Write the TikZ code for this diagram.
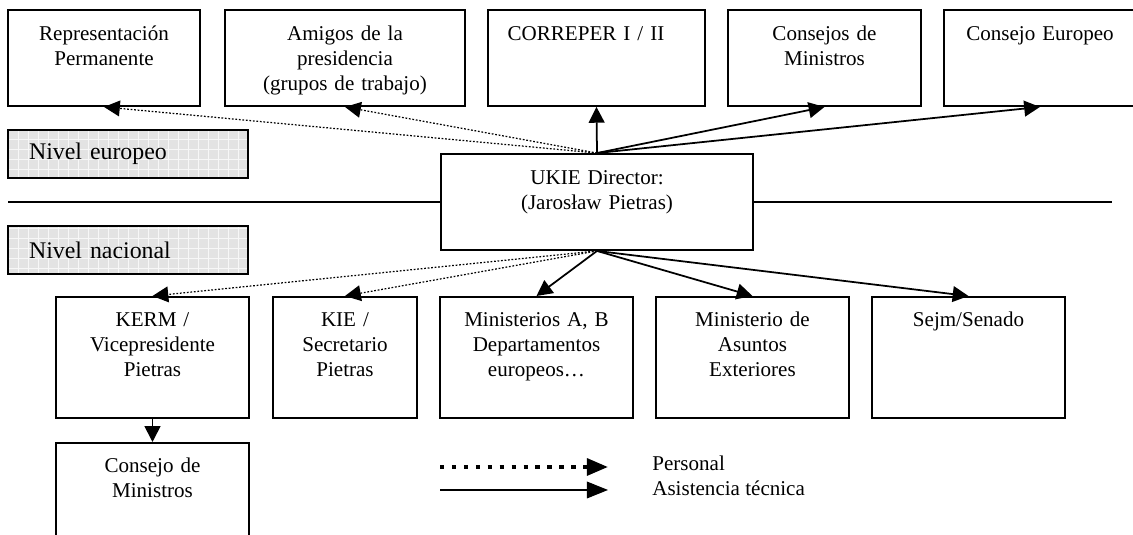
\documentclass[tikz,border=0pt]{standalone}
\usepackage{fontspec}
\setmainfont{Liberation Serif}
\usetikzlibrary{arrows.meta}

\begin{document}
\begin{tikzpicture}[
    x=0.57pt, y=-0.57pt,
    >={Triangle[length=9pt, width=9pt]},
    font=\fontsize{12}{14.25}\selectfont,
    caja/.style={draw, line width=1.1pt, align=center, inner sep=0pt, text height=17.1pt},
    cajaeu/.style={caja, text depth=37.6pt},
    cajanac/.style={caja, text depth=51.9pt},
    nivel/.style={draw, line width=1.1pt, fill=gray!22, align=left, inner xsep=6pt, inner ysep=0pt,
        text width=124.8pt, minimum height=27.4pt, font=\fontsize{13.6}{16}\selectfont,
        path picture={\draw[gray!6, line width=0.3pt, step=5.7pt]
            (path picture bounding box.south west) grid (path picture bounding box.north east);}},
    tecnica/.style={->, line width=1pt},
    personal/.style={->, line width=0.7pt, dash pattern=on 1pt off 1pt}
]
    \useasboundingbox (0,0) rectangle (1133,535);
    \clip (0,0) rectangle (1133,535);

    % Nivel europeo
    \node[cajaeu, text width=109.4pt] (rep) at (104,58) {Representación\\Permanente};
    \node[cajaeu, text width=136.8pt] (amigos) at (345,58) {Amigos de la\\presidencia\\(grupos de trabajo)};
    \node[cajaeu, text width=123.7pt] (correper) at (596.5,58) {CORREPER I / II\makebox[12pt]{}};
    \node[cajaeu, text width=110pt] (consejos) at (824.5,58) {Consejos de\\Ministros};
    \node[cajaeu, text width=109.4pt] (europeo) at (1040,58) {Consejo Europeo};

    \node[nivel] (niveleu) at (128,154) {\hspace*{6pt}Nivel europeo};

    % Director y linea divisoria
    \node[cajaeu, text width=177.8pt] (ukie) at (597,202) {UKIE Director:\\(Jarosław Pietras)};
    \coordinate (lineaizq) at (8,202);
    \coordinate (lineader) at (1112,202);
    \draw[line width=1pt] (lineaizq) -- (ukie.west);
    \draw[line width=1pt] (ukie.east) -- (lineader);

    \node[nivel] (nivelnac) at (128,250) {\hspace*{6pt}Nivel nacional};

    % Nivel nacional
    \node[cajanac, text width=110pt] (kerm) at (152.5,357.5) {KERM /\\Vicepresidente\\Pietras};
    \node[cajanac, text width=82.1pt] (kie) at (345,357.5) {KIE /\\Secretario\\Pietras};
    \node[cajanac, text width=110pt] (minab) at (536.5,357.5) {Ministerios A, B\\Departamentos\\europeos…};
    \node[cajanac, text width=110pt] (exteriores) at (752.5,357.5) {Ministerio de\\Asuntos\\Exteriores};
    \node[cajanac, text width=110pt] (sejm) at (968.5,357.5) {Sejm/Senado};
    \node[cajanac, text width=110pt, anchor=north] (consmin) at (152.5,442) {Consejo de\\Ministros};

    % Conexiones hacia arriba
    \draw[personal] (ukie.north) -- (rep.south);
    \draw[personal] (ukie.north) -- (amigos.south);
    \draw[tecnica] (ukie.north) -- (correper.south);
    \draw[tecnica] (ukie.north) -- (consejos.south);
    \draw[tecnica] (ukie.north) -- (europeo.south);

    % Conexiones hacia abajo
    \draw[personal] (ukie.south) -- (kerm.north);
    \draw[personal] (ukie.south) -- (kie.north);
    \draw[tecnica] (ukie.south) -- (minab.north);
    \draw[tecnica] (ukie.south) -- (exteriores.north);
    \draw[tecnica] (ukie.south) -- (sejm.north);
    \draw[tecnica] (kerm.south) -- (consmin.north);

    % Leyenda
    \coordinate (leya) at (440,467);
    \coordinate (leyb) at (608,467);
    \coordinate (leyc) at (440,490);
    \coordinate (leyd) at (608,490);
    \draw[-{Triangle[length=12pt, width=9.5pt]}, line width=2.3pt, dash pattern=on 2.5pt off 4.3pt] (leya) -- (leyb);
    \draw[-{Triangle[length=12pt, width=9.5pt]}, line width=0.7pt] (leyc) -- (leyd);
    \node[anchor=base west, inner sep=0pt] (txtpersonal) at (652,471) {Personal};
    \node[anchor=base west, inner sep=0pt] (txttecnica) at (652,496) {Asistencia técnica};

\end{tikzpicture}
\end{document}
